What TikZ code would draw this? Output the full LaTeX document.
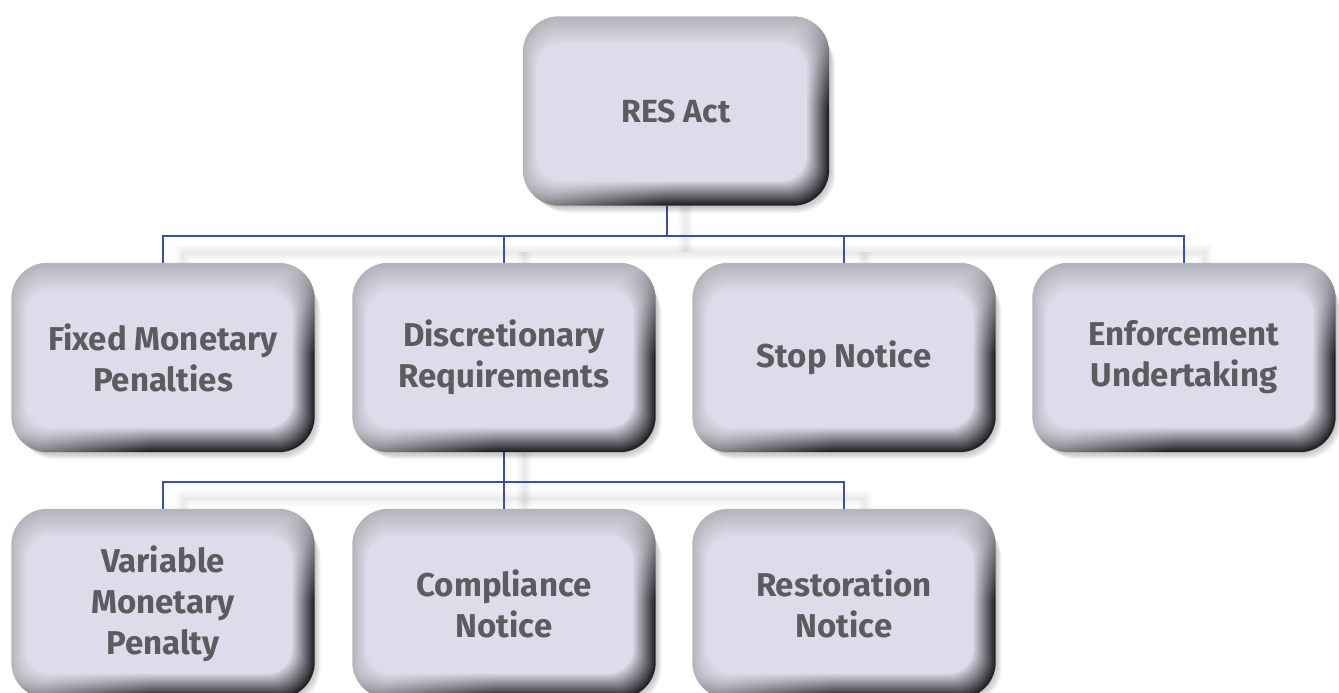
\documentclass[tikz,border=0pt]{standalone}
\usepackage{fontspec}
\setmainfont{Fira Sans}
\usetikzlibrary{calc}
\pgfdeclarelayer{bg}
\pgfdeclarelayer{boxes}
\pgfsetlayers{bg,boxes,main}
\definecolor{faceC}{HTML}{DCDCEA}
\definecolor{lightC}{HTML}{B4B4BC}
\definecolor{darkC}{HTML}{242428}
\definecolor{txtC}{HTML}{5C5C60}
\definecolor{lineC}{HTML}{3A50A8}
\colorlet{ringL}{lightC}
\colorlet{ringD}{darkC}
\pgfdeclareverticalshading[ringL,ringD]{bevel}{100bp}{color(0bp)=(ringD); color(34bp)=(ringD); color(52bp)=(ringL); color(100bp)=(ringL)}
\tikzset{
  boxtext/.style={shape=rectangle, inner sep=0pt, minimum width=303pt, minimum height=189pt,
    align=center, text=txtC, font=\fontsize{33}{41}\selectfont\bfseries},
  conn/.style={draw=lineC, line width=1.4pt},
  connshade/.style={draw=black, opacity=0.02, line width=#1},
}
\newcommand\drawbevel[1]{%
  \begin{pgfonlayer}{boxes}
    \foreach \s in {1,...,6}{
      \fill[black, opacity=0.045, rounded corners=38pt]
        ($(#1.north west)+(1+\s*1.0, 6+\s*1.1)$) rectangle ($(#1.south east)+(\s*1.0,\s*1.2)$);
    }
    \foreach \t in {0,...,12}{
      \pgfmathsetmacro\w{100-\t*100/12}
      \pgfmathsetmacro\rc{36-10*\t/12}
      \colorlet{ringL}{lightC!\w!faceC}
      \colorlet{ringD}{darkC!\w!faceC}
      \shade[shading=bevel, shading angle=30, rounded corners=\rc pt]
        ($(#1.north west)+(14*\t/12, 27*\t/12)$) rectangle ($(#1.south east)+(-22*\t/12,-24*\t/12)$);
    }
  \end{pgfonlayer}}
\begin{document}
\begin{tikzpicture}[x=1pt, y=-1pt]
  \useasboundingbox (0,0) rectangle (1339,693);
  \clip (0,0) rectangle (1339,693);
  % nodes
  \node[boxtext, minimum width=306pt, font=\fontsize{32}{41}\selectfont\bfseries] (res) at (676,111) {RES Act};
  \node[boxtext] (fmp) at (163,357.5) {Fixed Monetary\\Penalties};
  \node[boxtext] (dr)  at (504,357.5) {Discretionary\\Requirements};
  \node[boxtext] (sn)  at (844,357.5) {Stop Notice};
  \node[boxtext] (eu)  at (1184,357.5) {Enforcement\\Undertaking};
  \node[boxtext] (vmp) at (163,603.5) {Variable\\Monetary\\Penalty};
  \node[boxtext] (cn)  at (504,603.5) {Compliance\\Notice};
  \node[boxtext] (rn)  at (844,603.5) {Restoration\\Notice};
  \foreach \n in {res,fmp,dr,sn,eu,vmp,cn,rn}{\drawbevel{\n}}
  % bus coordinates
  \coordinate (bus1) at (667,236);
  \coordinate (bus2) at (504,482);
  % connector shadows
  \begin{pgfonlayer}{bg}
    \foreach \wd in {3pt,7pt,11pt,15pt}{
      \draw[connshade=\wd] ($(fmp.north)+(20,16)$) |- ($(bus1)+(18,16)$) -| ($(eu.north)+(20,16)$);
      \draw[connshade=\wd] ($(res.south -| bus1)+(18,0)$) -- ($(bus1)+(18,16)$);
      \draw[connshade=\wd] ($(dr.north)+(20,16)$) -- ($(dr.north |- bus1)+(20,16)$);
      \draw[connshade=\wd] ($(sn.north)+(20,16)$) -- ($(sn.north |- bus1)+(20,16)$);
      \draw[connshade=\wd] ($(vmp.north)+(20,16)$) |- ($(bus2)+(18,16)$) -| ($(rn.north)+(20,16)$);
      \draw[connshade=\wd] ($(dr.south)+(20,0)$) -- ($(cn.north)+(20,0)$);
    }
    % connectors
    \draw[conn] (res.south -| bus1) -- (bus1);
    \draw[conn] (fmp.north) |- (bus1) -| (eu.north);
    \draw[conn] (dr.north) -- (dr.north |- bus1);
    \draw[conn] (sn.north) -- (sn.north |- bus1);
    \draw[conn] (dr.south) -- (bus2);
    \draw[conn] (vmp.north) |- (bus2) -| (rn.north);
    \draw[conn] (cn.north) -- (bus2);
  \end{pgfonlayer}
\end{tikzpicture}
\end{document}
